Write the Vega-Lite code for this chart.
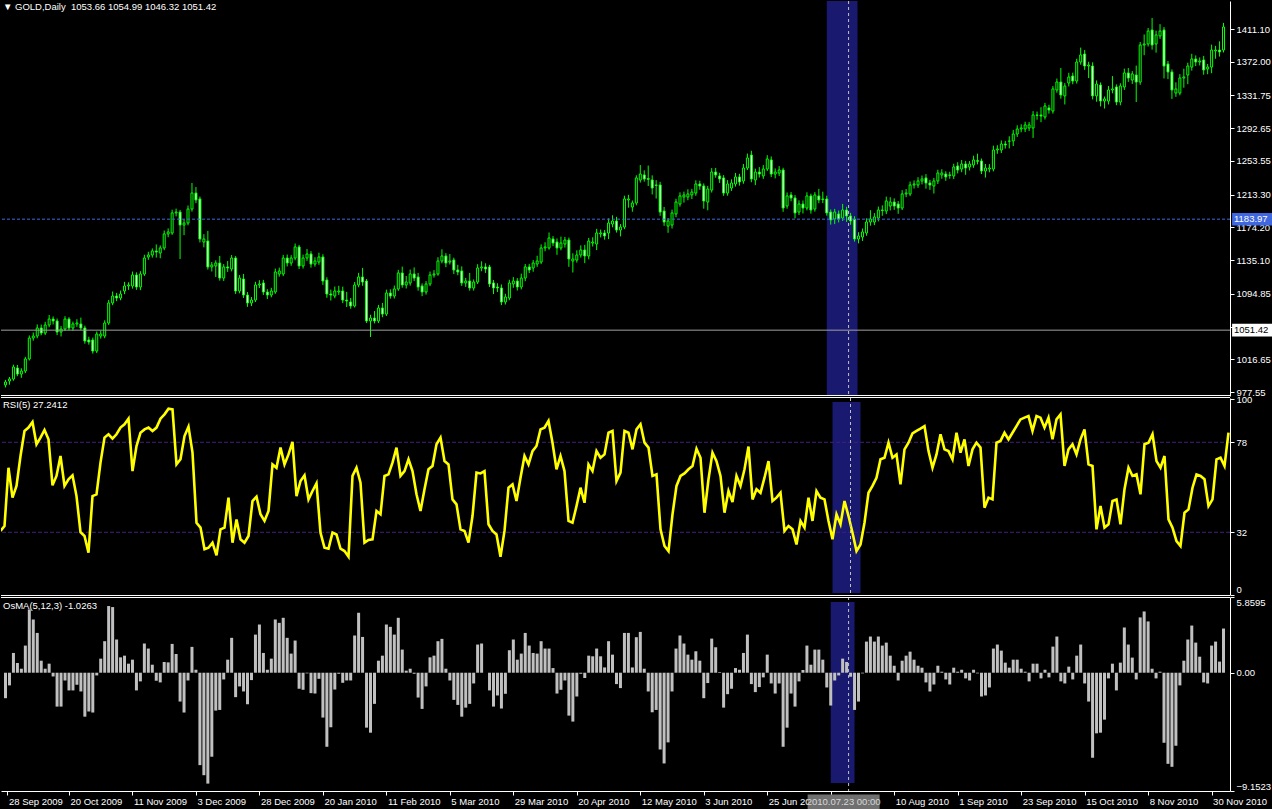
{
"$schema":"https://vega.github.io/schema/vega-lite/v6.json",
"background":"#000000",
"padding":0,
"autosize":{"type":"pad"},
"config":{"view":{"stroke":null},"font":"Liberation Sans","axis":{"labelFont":"Liberation Sans","labelFontSize":9.5,"labelColor":"#ffffff","domainColor":"#ffffff","tickColor":"#ffffff","grid":false}},
"spacing":2,
"bounds":"flush",
"datasets":{"bars":[
{"i":0,"o":986.0,"h":992.0,"l":983.0,"c":989.5,"r":32.7,"m":-1.97},
{"i":1,"o":990.7,"h":995.5,"l":986.3,"c":993.1,"r":35.2,"m":-0.98},
{"i":2,"o":993.1,"h":1010.2,"l":991.0,"c":1007.4,"r":65.0,"m":1.53},
{"i":3,"o":1006.2,"h":1009.8,"l":996.4,"c":999.0,"r":49.7,"m":0.75},
{"i":4,"o":999.0,"h":1005.9,"l":994.5,"c":1002.6,"r":55.7,"m":0.31},
{"i":5,"o":1002.6,"h":1019.6,"l":1000.1,"c":1017.0,"r":71.0,"m":2.10},
{"i":6,"o":1017.0,"h":1045.1,"l":1015.2,"c":1042.0,"r":83.8,"m":4.90},
{"i":7,"o":1042.0,"h":1048.6,"l":1038.9,"c":1044.4,"r":85.5,"m":4.12},
{"i":8,"o":1044.4,"h":1058.3,"l":1041.7,"c":1054.0,"r":88.4,"m":3.08},
{"i":9,"o":1054.0,"h":1058.1,"l":1045.3,"c":1048.0,"r":77.0,"m":0.93},
{"i":10,"o":1048.0,"h":1061.4,"l":1045.6,"c":1057.6,"r":80.4,"m":0.31},
{"i":11,"o":1057.6,"h":1069.5,"l":1054.9,"c":1064.7,"r":84.3,"m":0.70},
{"i":12,"o":1064.7,"h":1067.8,"l":1058.2,"c":1062.4,"r":79.5,"m":-0.29},
{"i":13,"o":1062.4,"h":1065.3,"l":1045.5,"c":1049.2,"r":56.0,"m":-2.62},
{"i":14,"o":1049.2,"h":1056.3,"l":1043.9,"c":1052.8,"r":60.8,"m":-2.62},
{"i":15,"o":1052.8,"h":1068.1,"l":1050.4,"c":1064.7,"r":71.0,"m":-0.60},
{"i":16,"o":1064.7,"h":1066.9,"l":1051.2,"c":1054.0,"r":55.7,"m":-1.37},
{"i":17,"o":1054.0,"h":1061.7,"l":1050.8,"c":1058.8,"r":59.1,"m":-1.37},
{"i":18,"o":1058.8,"h":1064.5,"l":1055.4,"c":1060.0,"r":61.1,"m":-0.93},
{"i":19,"o":1058.8,"h":1066.4,"l":1051.5,"c":1054.0,"r":50.5,"m":-1.45},
{"i":20,"o":1054.0,"h":1056.8,"l":1035.2,"c":1038.5,"r":32.1,"m":-3.40},
{"i":21,"o":1039.7,"h":1043.6,"l":1034.1,"c":1037.3,"r":30.1,"m":-3.00},
{"i":22,"o":1039.7,"h":1042.5,"l":1023.4,"c":1026.5,"r":21.6,"m":-3.08},
{"i":23,"o":1026.5,"h":1049.8,"l":1024.0,"c":1046.8,"r":50.5,"m":-0.21},
{"i":24,"o":1044.4,"h":1050.9,"l":1041.3,"c":1046.8,"r":51.4,"m":1.09},
{"i":25,"o":1044.4,"h":1063.2,"l":1041.8,"c":1060.0,"r":67.6,"m":2.44},
{"i":26,"o":1060.0,"h":1087.5,"l":1057.7,"c":1083.9,"r":80.4,"m":5.16},
{"i":27,"o":1083.9,"h":1097.6,"l":1081.2,"c":1092.2,"r":82.1,"m":5.08},
{"i":28,"o":1092.2,"h":1095.9,"l":1086.0,"c":1089.8,"r":79.9,"m":2.57},
{"i":29,"o":1089.8,"h":1098.7,"l":1087.1,"c":1094.6,"r":82.1,"m":1.19},
{"i":30,"o":1098.2,"h":1109.1,"l":1094.4,"c":1104.2,"r":85.5,"m":1.32},
{"i":31,"o":1104.2,"h":1108.6,"l":1099.5,"c":1105.4,"r":87.2,"m":0.70},
{"i":32,"o":1104.2,"h":1121.4,"l":1101.0,"c":1117.3,"r":90.1,"m":1.01},
{"i":33,"o":1117.3,"h":1120.5,"l":1099.6,"c":1103.0,"r":63.3,"m":-1.37},
{"i":34,"o":1103.0,"h":1121.9,"l":1099.2,"c":1118.5,"r":76.1,"m":-0.67},
{"i":35,"o":1118.5,"h":1141.5,"l":1116.2,"c":1137.6,"r":82.9,"m":2.26},
{"i":36,"o":1138.8,"h":1145.0,"l":1135.4,"c":1141.2,"r":84.6,"m":1.87},
{"i":37,"o":1141.2,"h":1149.1,"l":1138.0,"c":1146.0,"r":85.5,"m":0.62},
{"i":38,"o":1146.0,"h":1153.8,"l":1138.1,"c":1144.8,"r":83.8,"m":-0.62},
{"i":39,"o":1143.6,"h":1152.6,"l":1137.3,"c":1149.6,"r":85.5,"m":-0.75},
{"i":40,"o":1149.6,"h":1170.4,"l":1146.9,"c":1166.3,"r":90.1,"m":0.83},
{"i":41,"o":1166.3,"h":1172.9,"l":1162.4,"c":1168.7,"r":92.3,"m":0.80},
{"i":42,"o":1167.5,"h":1195.3,"l":1165.2,"c":1191.4,"r":95.2,"m":2.23},
{"i":43,"o":1191.4,"h":1196.6,"l":1187.3,"c":1192.5,"r":94.8,"m":1.45},
{"i":44,"o":1192.5,"h":1195.0,"l":1136.4,"c":1177.0,"r":66.7,"m":-2.23},
{"i":45,"o":1177.0,"h":1183.8,"l":1164.9,"c":1179.4,"r":69.3,"m":-3.08},
{"i":46,"o":1179.4,"h":1200.3,"l":1176.6,"c":1196.1,"r":81.2,"m":-0.60},
{"i":47,"o":1196.1,"h":1227.2,"l":1193.0,"c":1215.2,"r":86.0,"m":2.00},
{"i":48,"o":1215.2,"h":1222.4,"l":1203.1,"c":1206.9,"r":72.7,"m":0.23},
{"i":49,"o":1208.1,"h":1211.0,"l":1156.2,"c":1160.3,"r":36.9,"m":-7.15},
{"i":50,"o":1156.7,"h":1166.0,"l":1150.3,"c":1160.3,"r":34.4,"m":-7.93},
{"i":51,"o":1157.9,"h":1170.0,"l":1123.8,"c":1126.9,"r":23.3,"m":-8.58},
{"i":52,"o":1126.9,"h":1132.9,"l":1121.5,"c":1129.3,"r":24.1,"m":-6.50},
{"i":53,"o":1128.1,"h":1134.8,"l":1115.0,"c":1131.6,"r":26.7,"m":-2.93},
{"i":54,"o":1131.6,"h":1140.1,"l":1110.6,"c":1113.7,"r":20.2,"m":-2.88},
{"i":55,"o":1113.7,"h":1130.3,"l":1110.2,"c":1126.9,"r":33.5,"m":-0.52},
{"i":56,"o":1126.9,"h":1134.0,"l":1121.0,"c":1125.7,"r":34.4,"m":1.01},
{"i":57,"o":1124.5,"h":1141.2,"l":1121.6,"c":1137.6,"r":49.7,"m":2.70},
{"i":58,"o":1137.6,"h":1139.9,"l":1094.7,"c":1098.2,"r":26.7,"m":-1.89},
{"i":59,"o":1098.2,"h":1117.3,"l":1095.4,"c":1113.7,"r":38.6,"m":-1.06},
{"i":60,"o":1112.5,"h":1118.6,"l":1089.9,"c":1093.4,"r":28.4,"m":-1.45},
{"i":61,"o":1093.4,"h":1096.9,"l":1079.3,"c":1083.9,"r":26.7,"m":-2.44},
{"i":62,"o":1083.9,"h":1091.0,"l":1080.2,"c":1087.4,"r":30.1,"m":-0.57},
{"i":63,"o":1087.4,"h":1109.2,"l":1085.0,"c":1105.4,"r":48.0,"m":2.95},
{"i":64,"o":1105.4,"h":1111.1,"l":1101.7,"c":1106.6,"r":50.2,"m":3.73},
{"i":65,"o":1107.8,"h":1111.5,"l":1093.5,"c":1097.0,"r":41.2,"m":1.53},
{"i":66,"o":1097.0,"h":1100.4,"l":1088.7,"c":1093.4,"r":37.8,"m":0.23},
{"i":67,"o":1093.4,"h":1102.0,"l":1090.6,"c":1098.2,"r":42.9,"m":1.09},
{"i":68,"o":1097.0,"h":1125.0,"l":1094.8,"c":1120.9,"r":66.7,"m":4.12},
{"i":69,"o":1118.5,"h":1126.1,"l":1115.3,"c":1122.1,"r":65.0,"m":3.86},
{"i":70,"o":1118.5,"h":1141.3,"l":1116.0,"c":1137.6,"r":75.3,"m":4.25},
{"i":71,"o":1137.6,"h":1141.7,"l":1127.5,"c":1131.6,"r":66.7,"m":2.70},
{"i":72,"o":1131.6,"h":1141.0,"l":1128.3,"c":1137.6,"r":71.8,"m":1.48},
{"i":73,"o":1137.6,"h":1154.9,"l":1134.9,"c":1150.8,"r":78.2,"m":2.49},
{"i":74,"o":1150.8,"h":1153.2,"l":1124.4,"c":1128.1,"r":50.5,"m":-1.24},
{"i":75,"o":1128.1,"h":1141.6,"l":1125.0,"c":1137.6,"r":58.2,"m":-1.32},
{"i":76,"o":1137.6,"h":1148.3,"l":1134.1,"c":1142.4,"r":61.1,"m":-0.05},
{"i":77,"o":1142.4,"h":1145.8,"l":1126.1,"c":1130.4,"r":48.8,"m":-1.58},
{"i":78,"o":1130.4,"h":1138.5,"l":1127.3,"c":1134.0,"r":53.1,"m":-1.61},
{"i":79,"o":1132.8,"h":1143.9,"l":1129.5,"c":1138.8,"r":57.0,"m":-0.47},
{"i":80,"o":1138.8,"h":1142.1,"l":1105.5,"c":1110.1,"r":31.8,"m":-3.47},
{"i":81,"o":1111.3,"h":1114.6,"l":1090.1,"c":1094.6,"r":24.1,"m":-5.73},
{"i":82,"o":1094.6,"h":1099.9,"l":1086.8,"c":1093.4,"r":23.6,"m":-4.22},
{"i":83,"o":1092.2,"h":1103.5,"l":1089.5,"c":1098.2,"r":31.8,"m":-1.30},
{"i":84,"o":1097.0,"h":1104.4,"l":1093.5,"c":1098.2,"r":30.9,"m":-0.08},
{"i":85,"o":1098.2,"h":1103.4,"l":1083.7,"c":1087.4,"r":23.6,"m":-0.78},
{"i":86,"o":1087.4,"h":1097.2,"l":1079.1,"c":1086.2,"r":22.4,"m":-0.60},
{"i":87,"o":1085.1,"h":1089.8,"l":1077.0,"c":1080.3,"r":19.5,"m":-0.60},
{"i":88,"o":1080.3,"h":1108.9,"l":1078.5,"c":1105.4,"r":60.8,"m":2.88},
{"i":89,"o":1105.4,"h":1119.9,"l":1102.6,"c":1114.9,"r":65.0,"m":4.64},
{"i":90,"o":1114.9,"h":1125.8,"l":1104.4,"c":1108.9,"r":57.4,"m":2.77},
{"i":91,"o":1110.1,"h":1112.5,"l":1060.0,"c":1062.4,"r":26.7,"m":-4.25},
{"i":92,"o":1062.4,"h":1069.8,"l":1043.2,"c":1065.9,"r":28.1,"m":-4.64},
{"i":93,"o":1065.9,"h":1074.2,"l":1059.5,"c":1062.4,"r":28.4,"m":-2.41},
{"i":94,"o":1062.4,"h":1081.6,"l":1059.9,"c":1077.9,"r":42.9,"m":0.93},
{"i":95,"o":1077.9,"h":1084.0,"l":1066.8,"c":1070.7,"r":41.2,"m":1.32},
{"i":96,"o":1070.7,"h":1099.8,"l":1068.3,"c":1095.8,"r":60.8,"m":3.73},
{"i":97,"o":1095.8,"h":1100.2,"l":1089.0,"c":1092.2,"r":61.6,"m":3.55},
{"i":98,"o":1092.2,"h":1104.7,"l":1089.2,"c":1100.6,"r":67.6,"m":2.95},
{"i":99,"o":1100.6,"h":1123.5,"l":1098.3,"c":1119.7,"r":75.3,"m":4.25},
{"i":100,"o":1119.7,"h":1127.3,"l":1102.1,"c":1105.4,"r":60.8,"m":1.79},
{"i":101,"o":1105.4,"h":1116.1,"l":1101.2,"c":1108.9,"r":63.3,"m":0.16},
{"i":102,"o":1107.8,"h":1123.8,"l":1104.6,"c":1118.5,"r":69.3,"m":0.31},
{"i":103,"o":1118.5,"h":1126.3,"l":1110.0,"c":1113.7,"r":63.3,"m":-0.08},
{"i":104,"o":1114.9,"h":1119.8,"l":1098.6,"c":1103.0,"r":51.4,"m":-1.92},
{"i":105,"o":1104.2,"h":1107.3,"l":1092.0,"c":1097.0,"r":42.9,"m":-2.80},
{"i":106,"o":1097.0,"h":1110.0,"l":1093.9,"c":1106.6,"r":54.0,"m":-1.06},
{"i":107,"o":1106.6,"h":1121.4,"l":1104.0,"c":1117.3,"r":64.2,"m":1.19},
{"i":108,"o":1117.3,"h":1123.1,"l":1114.2,"c":1118.5,"r":65.9,"m":1.32},
{"i":109,"o":1118.5,"h":1138.5,"l":1116.4,"c":1134.0,"r":77.0,"m":2.44},
{"i":110,"o":1134.0,"h":1148.0,"l":1131.2,"c":1140.0,"r":80.4,"m":2.62},
{"i":111,"o":1140.0,"h":1143.4,"l":1126.6,"c":1131.6,"r":68.4,"m":0.31},
{"i":112,"o":1132.8,"h":1142.3,"l":1129.9,"c":1134.0,"r":66.7,"m":-0.60},
{"i":113,"o":1135.2,"h":1138.0,"l":1118.4,"c":1123.3,"r":48.8,"m":-2.10},
{"i":114,"o":1123.3,"h":1129.5,"l":1117.0,"c":1120.9,"r":46.3,"m":-2.49},
{"i":115,"o":1122.1,"h":1127.6,"l":1104.3,"c":1107.8,"r":33.5,"m":-3.40},
{"i":116,"o":1107.8,"h":1113.9,"l":1103.1,"c":1110.1,"r":32.7,"m":-2.70},
{"i":117,"o":1110.1,"h":1119.8,"l":1098.6,"c":1101.8,"r":26.7,"m":-2.41},
{"i":118,"o":1101.8,"h":1112.0,"l":1098.7,"c":1108.9,"r":40.3,"m":-0.83},
{"i":119,"o":1108.9,"h":1130.2,"l":1106.5,"c":1125.7,"r":62.5,"m":2.18},
{"i":120,"o":1125.7,"h":1133.6,"l":1121.8,"c":1126.9,"r":62.1,"m":2.26},
{"i":121,"o":1126.9,"h":1131.3,"l":1119.8,"c":1124.5,"r":63.3,"m":0.00},
{"i":122,"o":1126.9,"h":1129.4,"l":1103.0,"c":1106.6,"r":36.1,"m":-1.37},
{"i":123,"o":1107.8,"h":1111.3,"l":1094.5,"c":1101.8,"r":32.7,"m":-2.62},
{"i":124,"o":1103.0,"h":1107.5,"l":1096.9,"c":1101.8,"r":30.9,"m":-1.76},
{"i":125,"o":1101.8,"h":1106.0,"l":1081.3,"c":1085.1,"r":19.5,"m":-2.77},
{"i":126,"o":1085.1,"h":1094.9,"l":1082.0,"c":1091.0,"r":32.7,"m":-1.63},
{"i":127,"o":1089.8,"h":1111.6,"l":1087.2,"c":1107.8,"r":54.8,"m":1.74},
{"i":128,"o":1106.6,"h":1114.8,"l":1102.0,"c":1110.1,"r":56.5,"m":2.57},
{"i":129,"o":1110.1,"h":1113.6,"l":1098.8,"c":1103.0,"r":48.0,"m":1.01},
{"i":130,"o":1103.0,"h":1118.9,"l":1100.1,"c":1113.7,"r":59.9,"m":1.48},
{"i":131,"o":1113.7,"h":1130.4,"l":1109.9,"c":1126.9,"r":71.0,"m":3.08},
{"i":132,"o":1126.9,"h":1130.6,"l":1119.6,"c":1123.3,"r":66.7,"m":2.10},
{"i":133,"o":1125.7,"h":1135.1,"l":1121.2,"c":1131.6,"r":73.5,"m":1.53},
{"i":134,"o":1130.4,"h":1140.3,"l":1127.0,"c":1134.0,"r":76.1,"m":1.48},
{"i":135,"o":1132.8,"h":1153.9,"l":1130.3,"c":1149.6,"r":84.6,"m":2.44},
{"i":136,"o":1149.6,"h":1156.4,"l":1145.7,"c":1150.8,"r":85.5,"m":1.87},
{"i":137,"o":1149.6,"h":1168.1,"l":1147.5,"c":1161.5,"r":88.9,"m":1.87},
{"i":138,"o":1160.3,"h":1163.7,"l":1151.8,"c":1155.5,"r":77.8,"m":0.36},
{"i":139,"o":1156.7,"h":1161.0,"l":1141.4,"c":1149.6,"r":64.2,"m":-1.61},
{"i":140,"o":1149.6,"h":1163.1,"l":1146.8,"c":1155.5,"r":71.0,"m":-1.32},
{"i":141,"o":1154.3,"h":1162.8,"l":1150.1,"c":1159.1,"r":63.3,"m":-0.60},
{"i":142,"o":1159.1,"h":1162.0,"l":1127.1,"c":1136.4,"r":37.8,"m":-3.32},
{"i":143,"o":1134.0,"h":1143.2,"l":1120.3,"c":1136.4,"r":36.9,"m":-3.78},
{"i":144,"o":1135.2,"h":1146.8,"l":1132.1,"c":1141.2,"r":45.4,"m":-1.84},
{"i":145,"o":1141.2,"h":1152.7,"l":1138.1,"c":1147.2,"r":54.8,"m":-0.08},
{"i":146,"o":1147.2,"h":1153.3,"l":1131.5,"c":1140.0,"r":47.1,"m":-0.41},
{"i":147,"o":1140.0,"h":1161.6,"l":1136.0,"c":1157.9,"r":66.7,"m":1.32},
{"i":148,"o":1155.5,"h":1162.3,"l":1151.3,"c":1156.7,"r":63.3,"m":1.27},
{"i":149,"o":1154.3,"h":1172.4,"l":1147.0,"c":1167.5,"r":73.5,"m":1.87},
{"i":150,"o":1166.3,"h":1171.6,"l":1162.2,"c":1167.5,"r":70.1,"m":1.27},
{"i":151,"o":1167.5,"h":1171.0,"l":1159.5,"c":1163.9,"r":71.8,"m":0.41},
{"i":152,"o":1167.5,"h":1184.9,"l":1160.1,"c":1179.4,"r":82.9,"m":2.44},
{"i":153,"o":1178.2,"h":1188.6,"l":1174.3,"c":1181.8,"r":83.8,"m":1.40},
{"i":154,"o":1181.8,"h":1186.8,"l":1168.0,"c":1171.0,"r":58.2,"m":-0.88},
{"i":155,"o":1171.0,"h":1178.1,"l":1163.4,"c":1174.6,"r":62.5,"m":-1.19},
{"i":156,"o":1174.6,"h":1212.0,"l":1172.0,"c":1208.1,"r":83.8,"m":3.08},
{"i":157,"o":1206.9,"h":1213.1,"l":1197.7,"c":1208.1,"r":82.9,"m":3.08},
{"i":158,"o":1198.5,"h":1206.3,"l":1192.9,"c":1203.3,"r":74.4,"m":0.41},
{"i":159,"o":1203.3,"h":1236.4,"l":1200.5,"c":1233.2,"r":84.6,"m":2.75},
{"i":160,"o":1230.8,"h":1248.6,"l":1227.7,"c":1237.9,"r":87.2,"m":3.16},
{"i":161,"o":1236.8,"h":1242.3,"l":1228.8,"c":1232.0,"r":77.8,"m":0.31},
{"i":162,"o":1232.6,"h":1248.0,"l":1223.6,"c":1231.6,"r":75.3,"m":-1.45},
{"i":163,"o":1230.8,"h":1236.3,"l":1213.5,"c":1221.2,"r":60.8,"m":-3.06},
{"i":164,"o":1224.8,"h":1230.6,"l":1208.6,"c":1224.2,"r":61.6,"m":-2.88},
{"i":165,"o":1224.8,"h":1228.6,"l":1188.0,"c":1192.5,"r":33.5,"m":-5.94},
{"i":166,"o":1193.7,"h":1198.6,"l":1176.0,"c":1180.6,"r":25.0,"m":-7.02},
{"i":167,"o":1175.8,"h":1185.3,"l":1167.7,"c":1181.8,"r":22.4,"m":-5.39},
{"i":168,"o":1177.0,"h":1195.4,"l":1172.8,"c":1191.4,"r":41.2,"m":-1.45},
{"i":169,"o":1190.2,"h":1208.4,"l":1186.3,"c":1204.5,"r":55.7,"m":1.87},
{"i":170,"o":1202.1,"h":1216.0,"l":1199.0,"c":1211.7,"r":60.8,"m":2.88},
{"i":171,"o":1210.5,"h":1216.9,"l":1203.8,"c":1212.9,"r":62.1,"m":2.26},
{"i":172,"o":1210.5,"h":1219.7,"l":1206.6,"c":1214.1,"r":64.2,"m":1.40},
{"i":173,"o":1212.9,"h":1220.2,"l":1208.1,"c":1216.4,"r":65.9,"m":1.01},
{"i":174,"o":1215.2,"h":1230.4,"l":1211.9,"c":1226.0,"r":74.7,"m":1.66},
{"i":175,"o":1226.0,"h":1229.9,"l":1219.1,"c":1223.6,"r":70.1,"m":0.93},
{"i":176,"o":1223.6,"h":1226.7,"l":1196.5,"c":1205.7,"r":42.0,"m":-1.97},
{"i":177,"o":1204.5,"h":1223.8,"l":1194.6,"c":1220.0,"r":59.1,"m":-0.80},
{"i":178,"o":1218.8,"h":1245.0,"l":1215.8,"c":1240.3,"r":72.7,"m":2.64},
{"i":179,"o":1240.3,"h":1245.2,"l":1233.5,"c":1236.8,"r":68.4,"m":1.97},
{"i":180,"o":1235.6,"h":1239.4,"l":1227.3,"c":1232.0,"r":60.8,"m":0.05},
{"i":181,"o":1233.2,"h":1236.6,"l":1211.9,"c":1215.2,"r":42.0,"m":-2.70},
{"i":182,"o":1215.2,"h":1230.7,"l":1212.0,"c":1226.0,"r":53.1,"m":-1.66},
{"i":183,"o":1221.2,"h":1231.6,"l":1217.7,"c":1227.2,"r":47.5,"m":-1.24},
{"i":184,"o":1226.0,"h":1239.2,"l":1222.9,"c":1234.4,"r":60.8,"m":0.36},
{"i":185,"o":1234.4,"h":1238.2,"l":1224.0,"c":1228.4,"r":55.7,"m":0.23},
{"i":186,"o":1229.6,"h":1249.9,"l":1226.3,"c":1245.1,"r":64.2,"m":1.53},
{"i":187,"o":1245.1,"h":1262.4,"l":1242.6,"c":1257.1,"r":75.8,"m":2.95},
{"i":188,"o":1260.6,"h":1265.7,"l":1228.1,"c":1232.0,"r":48.8,"m":-0.88},
{"i":189,"o":1230.8,"h":1244.3,"l":1224.6,"c":1240.3,"r":54.0,"m":-1.50},
{"i":190,"o":1240.3,"h":1246.2,"l":1233.7,"c":1237.9,"r":52.2,"m":-1.11},
{"i":191,"o":1235.6,"h":1248.6,"l":1232.1,"c":1243.9,"r":59.9,"m":-0.36},
{"i":192,"o":1243.9,"h":1260.4,"l":1241.5,"c":1255.9,"r":68.4,"m":1.40},
{"i":193,"o":1254.7,"h":1258.9,"l":1234.3,"c":1237.9,"r":48.0,"m":-0.83},
{"i":194,"o":1237.9,"h":1244.6,"l":1232.7,"c":1240.3,"r":49.7,"m":-1.61},
{"i":195,"o":1239.1,"h":1247.3,"l":1235.6,"c":1242.7,"r":52.2,"m":-0.83},
{"i":196,"o":1242.7,"h":1245.4,"l":1192.8,"c":1197.3,"r":32.7,"m":-5.73},
{"i":197,"o":1199.7,"h":1215.9,"l":1196.5,"c":1211.7,"r":35.2,"m":-4.25},
{"i":198,"o":1212.9,"h":1216.4,"l":1205.4,"c":1209.3,"r":33.5,"m":-1.61},
{"i":199,"o":1209.3,"h":1212.7,"l":1185.0,"c":1191.4,"r":25.8,"m":-2.62},
{"i":200,"o":1192.5,"h":1206.5,"l":1189.0,"c":1202.1,"r":37.8,"m":-0.67},
{"i":201,"o":1202.1,"h":1206.3,"l":1190.8,"c":1197.3,"r":34.4,"m":0.21},
{"i":202,"o":1197.3,"h":1216.1,"l":1194.5,"c":1211.7,"r":49.7,"m":2.10},
{"i":203,"o":1211.7,"h":1214.4,"l":1190.6,"c":1194.9,"r":37.8,"m":0.62},
{"i":204,"o":1196.1,"h":1216.3,"l":1193.0,"c":1212.9,"r":53.1,"m":1.79},
{"i":205,"o":1211.7,"h":1220.1,"l":1203.0,"c":1206.9,"r":49.7,"m":1.79},
{"i":206,"o":1208.1,"h":1216.8,"l":1203.2,"c":1207.5,"r":48.8,"m":1.01},
{"i":207,"o":1208.1,"h":1212.0,"l":1188.2,"c":1191.4,"r":37.8,"m":-1.14},
{"i":208,"o":1192.5,"h":1195.6,"l":1177.5,"c":1183.0,"r":28.4,"m":-2.54},
{"i":209,"o":1184.2,"h":1196.3,"l":1178.1,"c":1192.5,"r":41.2,"m":-0.60},
{"i":210,"o":1190.2,"h":1194.3,"l":1180.1,"c":1184.2,"r":36.1,"m":-0.21},
{"i":211,"o":1185.4,"h":1202.2,"l":1181.9,"c":1194.9,"r":48.0,"m":1.09},
{"i":212,"o":1194.9,"h":1198.8,"l":1180.7,"c":1187.8,"r":40.3,"m":0.83},
{"i":213,"o":1187.8,"h":1191.5,"l":1177.3,"c":1181.8,"r":31.8,"m":-0.31},
{"i":214,"o":1184.2,"h":1187.5,"l":1157.2,"c":1160.3,"r":22.4,"m":-2.88},
{"i":215,"o":1160.3,"h":1168.4,"l":1155.1,"c":1163.9,"r":25.8,"m":-2.23},
{"i":216,"o":1162.7,"h":1172.8,"l":1158.0,"c":1168.7,"r":36.9,"m":-0.05},
{"i":217,"o":1167.5,"h":1185.0,"l":1164.1,"c":1180.6,"r":52.2,"m":2.41},
{"i":218,"o":1180.6,"h":1194.7,"l":1176.2,"c":1184.2,"r":55.7,"m":2.80},
{"i":219,"o":1180.6,"h":1191.2,"l":1176.8,"c":1186.6,"r":59.9,"m":2.41},
{"i":220,"o":1185.4,"h":1199.0,"l":1181.3,"c":1194.9,"r":69.3,"m":2.80},
{"i":221,"o":1194.9,"h":1200.5,"l":1188.0,"c":1194.3,"r":70.1,"m":2.10},
{"i":222,"o":1193.7,"h":1210.9,"l":1190.0,"c":1205.7,"r":77.8,"m":2.33},
{"i":223,"o":1199.7,"h":1210.2,"l":1194.4,"c":1204.5,"r":70.1,"m":1.32},
{"i":224,"o":1204.5,"h":1208.8,"l":1195.1,"c":1199.7,"r":71.8,"m":0.54},
{"i":225,"o":1202.1,"h":1205.6,"l":1190.4,"c":1197.3,"r":56.5,"m":-0.60},
{"i":226,"o":1197.3,"h":1218.6,"l":1194.8,"c":1214.1,"r":74.4,"m":0.93},
{"i":227,"o":1214.1,"h":1220.0,"l":1210.2,"c":1215.2,"r":77.8,"m":1.32},
{"i":228,"o":1214.1,"h":1228.9,"l":1211.5,"c":1224.8,"r":82.6,"m":1.63},
{"i":229,"o":1224.8,"h":1230.3,"l":1220.6,"c":1226.0,"r":83.8,"m":1.01},
{"i":230,"o":1224.8,"h":1234.1,"l":1221.4,"c":1229.6,"r":85.0,"m":0.54},
{"i":231,"o":1229.6,"h":1236.1,"l":1225.5,"c":1232.0,"r":86.3,"m":0.39},
{"i":232,"o":1233.2,"h":1237.8,"l":1220.4,"c":1227.2,"r":73.5,"m":-0.75},
{"i":233,"o":1227.2,"h":1231.0,"l":1219.0,"c":1224.8,"r":65.0,"m":-1.45},
{"i":234,"o":1223.6,"h":1233.3,"l":1214.6,"c":1229.6,"r":71.8,"m":-0.91},
{"i":235,"o":1229.6,"h":1243.0,"l":1226.0,"c":1239.1,"r":82.1,"m":0.54},
{"i":236,"o":1236.8,"h":1243.6,"l":1232.3,"c":1239.1,"r":74.4,"m":0.08},
{"i":237,"o":1237.9,"h":1241.2,"l":1229.8,"c":1234.4,"r":73.5,"m":-0.52},
{"i":238,"o":1236.8,"h":1240.6,"l":1232.3,"c":1236.2,"r":69.3,"m":-0.91},
{"i":239,"o":1235.6,"h":1250.2,"l":1232.0,"c":1246.3,"r":82.9,"m":0.39},
{"i":240,"o":1247.5,"h":1252.0,"l":1238.6,"c":1242.7,"r":72.7,"m":0.08},
{"i":241,"o":1243.9,"h":1254.7,"l":1240.1,"c":1249.9,"r":79.5,"m":0.23},
{"i":242,"o":1249.9,"h":1253.6,"l":1237.0,"c":1245.1,"r":65.9,"m":-0.44},
{"i":243,"o":1246.3,"h":1253.4,"l":1242.2,"c":1249.9,"r":74.4,"m":-0.60},
{"i":244,"o":1248.7,"h":1259.8,"l":1245.3,"c":1254.7,"r":77.8,"m":0.23},
{"i":245,"o":1253.9,"h":1262.2,"l":1249.5,"c":1253.1,"r":75.3,"m":-0.05},
{"i":246,"o":1253.5,"h":1256.4,"l":1237.9,"c":1241.5,"r":44.6,"m":-1.84},
{"i":247,"o":1241.5,"h":1249.9,"l":1233.7,"c":1245.1,"r":49.7,"m":-1.76},
{"i":248,"o":1243.9,"h":1249.7,"l":1240.0,"c":1245.1,"r":48.8,"m":-1.14},
{"i":249,"o":1243.9,"h":1271.8,"l":1241.1,"c":1266.6,"r":77.8,"m":1.87},
{"i":250,"o":1266.6,"h":1272.3,"l":1262.1,"c":1267.8,"r":78.7,"m":2.18},
{"i":251,"o":1266.6,"h":1278.0,"l":1263.0,"c":1273.8,"r":82.9,"m":1.71},
{"i":252,"o":1273.8,"h":1277.5,"l":1268.3,"c":1272.6,"r":79.5,"m":0.78},
{"i":253,"o":1277.0,"h":1283.0,"l":1268.5,"c":1277.4,"r":82.9,"m":0.39},
{"i":254,"o":1277.4,"h":1290.6,"l":1271.3,"c":1285.7,"r":86.3,"m":1.01},
{"i":255,"o":1285.7,"h":1296.1,"l":1282.2,"c":1291.7,"r":89.7,"m":1.01},
{"i":256,"o":1291.7,"h":1297.3,"l":1287.8,"c":1292.9,"r":90.6,"m":0.31},
{"i":257,"o":1291.7,"h":1300.4,"l":1288.0,"c":1296.5,"r":91.4,"m":0.08},
{"i":258,"o":1292.9,"h":1300.0,"l":1289.3,"c":1296.5,"r":83.8,"m":-0.67},
{"i":259,"o":1292.9,"h":1313.0,"l":1281.0,"c":1308.4,"r":91.4,"m":0.70},
{"i":260,"o":1308.4,"h":1312.5,"l":1302.8,"c":1308.0,"r":90.6,"m":0.70},
{"i":261,"o":1308.4,"h":1317.7,"l":1299.8,"c":1307.2,"r":85.5,"m":-0.44},
{"i":262,"o":1306.0,"h":1322.9,"l":1303.0,"c":1319.2,"r":90.6,"m":0.23},
{"i":263,"o":1316.8,"h":1320.6,"l":1310.0,"c":1314.4,"r":79.5,"m":-0.36},
{"i":264,"o":1313.2,"h":1343.0,"l":1310.1,"c":1339.5,"r":89.7,"m":2.02},
{"i":265,"o":1338.3,"h":1352.0,"l":1335.0,"c":1347.8,"r":92.3,"m":2.80},
{"i":266,"o":1347.8,"h":1364.5,"l":1327.9,"c":1332.3,"r":65.9,"m":-0.67},
{"i":267,"o":1331.2,"h":1346.5,"l":1321.0,"c":1343.0,"r":74.4,"m":-0.83},
{"i":268,"o":1346.6,"h":1358.8,"l":1342.5,"c":1353.8,"r":77.0,"m":0.47},
{"i":269,"o":1355.0,"h":1359.0,"l":1345.1,"c":1349.0,"r":71.8,"m":-0.52},
{"i":270,"o":1349.0,"h":1375.6,"l":1346.0,"c":1371.7,"r":79.5,"m":1.32},
{"i":271,"o":1371.7,"h":1388.9,"l":1368.5,"c":1380.1,"r":84.6,"m":2.18},
{"i":272,"o":1381.3,"h":1386.0,"l":1362.3,"c":1366.9,"r":66.7,"m":-0.83},
{"i":273,"o":1366.9,"h":1372.0,"l":1352.5,"c":1368.1,"r":65.9,"m":-2.23},
{"i":274,"o":1366.9,"h":1371.3,"l":1327.0,"c":1331.2,"r":33.5,"m":-6.58},
{"i":275,"o":1331.2,"h":1349.7,"l":1324.3,"c":1345.4,"r":45.4,"m":-4.69},
{"i":276,"o":1344.2,"h":1347.3,"l":1318.7,"c":1325.1,"r":34.4,"m":-4.64},
{"i":277,"o":1325.1,"h":1330.5,"l":1316.1,"c":1327.6,"r":36.1,"m":-3.63},
{"i":278,"o":1325.1,"h":1343.1,"l":1321.0,"c":1338.3,"r":48.0,"m":-0.44},
{"i":279,"o":1338.3,"h":1354.9,"l":1334.3,"c":1339.5,"r":48.8,"m":0.70},
{"i":280,"o":1341.9,"h":1345.0,"l":1320.1,"c":1323.9,"r":36.1,"m":-1.37},
{"i":281,"o":1323.9,"h":1346.3,"l":1320.0,"c":1343.0,"r":54.0,"m":0.78},
{"i":282,"o":1341.9,"h":1363.8,"l":1338.4,"c":1358.6,"r":65.0,"m":3.50},
{"i":283,"o":1358.6,"h":1364.5,"l":1348.0,"c":1352.6,"r":60.8,"m":2.18},
{"i":284,"o":1350.2,"h":1360.8,"l":1345.5,"c":1357.4,"r":61.6,"m":1.17},
{"i":285,"o":1356.2,"h":1367.4,"l":1323.9,"c":1347.8,"r":51.4,"m":-0.52},
{"i":286,"o":1347.8,"h":1395.6,"l":1344.5,"c":1392.0,"r":77.0,"m":4.28},
{"i":287,"o":1392.0,"h":1404.6,"l":1379.8,"c":1393.2,"r":77.8,"m":4.74},
{"i":288,"o":1393.2,"h":1412.3,"l":1390.2,"c":1408.7,"r":82.1,"m":3.97},
{"i":289,"o":1409.9,"h":1424.3,"l":1386.5,"c":1392.0,"r":68.4,"m":0.31},
{"i":290,"o":1393.2,"h":1409.2,"l":1382.9,"c":1404.0,"r":65.0,"m":-0.44},
{"i":291,"o":1402.8,"h":1416.9,"l":1399.3,"c":1408.7,"r":71.0,"m":0.08},
{"i":292,"o":1409.9,"h":1413.4,"l":1352.1,"c":1366.9,"r":38.6,"m":-5.42},
{"i":293,"o":1369.3,"h":1373.0,"l":1351.2,"c":1359.8,"r":34.4,"m":-7.05},
{"i":294,"o":1359.8,"h":1362.9,"l":1327.6,"c":1338.3,"r":27.5,"m":-7.28},
{"i":295,"o":1334.7,"h":1347.4,"l":1330.1,"c":1339.5,"r":25.0,"m":-5.65},
{"i":296,"o":1334.7,"h":1357.2,"l":1331.9,"c":1352.6,"r":42.0,"m":-0.98},
{"i":297,"o":1352.6,"h":1363.7,"l":1341.0,"c":1353.8,"r":43.7,"m":0.93},
{"i":298,"o":1356.2,"h":1370.9,"l":1345.2,"c":1366.9,"r":54.8,"m":2.57},
{"i":299,"o":1365.7,"h":1381.5,"l":1361.4,"c":1375.3,"r":61.6,"m":3.65},
{"i":300,"o":1375.3,"h":1379.6,"l":1366.8,"c":1371.7,"r":60.8,"m":2.33},
{"i":301,"o":1371.7,"h":1377.2,"l":1367.6,"c":1372.9,"r":59.1,"m":1.24},
{"i":302,"o":1374.1,"h":1379.0,"l":1356.5,"c":1362.2,"r":45.4,"m":-0.75},
{"i":303,"o":1363.4,"h":1369.4,"l":1357.1,"c":1365.7,"r":48.8,"m":-0.83},
{"i":304,"o":1365.7,"h":1392.5,"l":1358.3,"c":1386.0,"r":69.3,"m":2.10},
{"i":305,"o":1384.9,"h":1391.0,"l":1375.6,"c":1386.0,"r":70.1,"m":2.41},
{"i":306,"o":1386.0,"h":1396.4,"l":1378.2,"c":1383.7,"r":65.9,"m":0.86},
{"i":307,"o":1386.0,"h":1418.4,"l":1383.1,"c":1413.5,"r":82.9,"m":3.42}
]},
"vconcat":[
{
"width":1229,"height":395,
"title":{"text":"▼ GOLD,Daily\u00a0 1053.66 1054.99 1046.32 1051.42","anchor":"start","frame":"group","orient":"top","baseline":"top","offset":-10.5,"dx":2,"fontSize":9.5,"font":"Liberation Sans","fontWeight":"normal","color":"#ffffff"},
"resolve":{"axis":{"x":"independent","y":"independent"}},
"layer":[
{"data":{"values":[{"x1":207,"x2":214.75}]},"mark":{"type":"rect","color":"#191970"},
 "encoding":{"x":{"field":"x1","type":"quantitative","scale":{"domain":[0.125,307.375],"nice":false,"zero":false},"axis":null},"x2":{"field":"x2"},"y":{"value":0},"y2":{"value":"height"}}},
{"data":{"name":"bars"},"mark":{"type":"rule","color":"#00ff00","strokeWidth":1,"clip":true},
 "encoding":{"x":{"field":"i","type":"quantitative","scale":{"domain":[0.125,307.375],"nice":false,"zero":false},"axis":null},
 "y":{"field":"l","type":"quantitative","scale":{"domain":[972.78,1444.57],"nice":false,"zero":false},"axis":{"orient":"right","title":null,"values":[977.55,1016.65,1055.75,1094.85,1135.10,1174.20,1213.30,1253.55,1292.65,1331.75,1372.00,1411.10],"format":".2f","tickSize":4,"labelPadding":2}},
 "y2":{"field":"h"}}},
{"data":{"name":"bars"},"mark":{"type":"bar","size":2,"stroke":"#00ff00","strokeWidth":1,"clip":true},
 "encoding":{"x":{"field":"i","type":"quantitative","scale":{"domain":[0.125,307.375],"nice":false,"zero":false},"axis":null},
 "y":{"field":"o","type":"quantitative","scale":{"domain":[972.78,1444.57],"nice":false,"zero":false},"axis":null},"y2":{"field":"c"},
 "fill":{"condition":{"test":"datum.c < datum.o","value":"#ffffff"},"value":"#000000"}}},
{"data":{"values":[{"p":1183.97}]},"mark":{"type":"rule","color":"#4169e1","strokeDash":[3,2]},"encoding":{"y":{"field":"p","type":"quantitative","axis":null}}},
{"data":{"values":[{"p":1051.42}]},"mark":{"type":"rule","color":"#a0a0a0"},"encoding":{"y":{"field":"p","type":"quantitative","axis":null}}},
{"data":{"values":[{"p":973.38}]},"mark":{"type":"rule","color":"#ffffff"},"encoding":{"y":{"field":"p","type":"quantitative","axis":null}}},
{"data":{"values":[{"x":212.5}]},"mark":{"type":"rule","color":"#c0c0c0","strokeDash":[3,3]},"encoding":{"x":{"field":"x","type":"quantitative","axis":null}}},
{"data":{"values":[{"p":1183.97,"t":"1183.97"}]},"mark":{"type":"point","shape":"M0.1,-0.3H2V0.3H0.1Z","size":1764,"filled":true,"opacity":1,"color":"#3f67e0","strokeWidth":0},"encoding":{"x":{"value":"width"},"y":{"field":"p","type":"quantitative","axis":null}}},
{"data":{"values":[{"p":1183.97,"t":"1183.97"}]},"mark":{"type":"text","align":"left","baseline":"middle","dx":4,"fontSize":9.5,"font":"Liberation Sans","color":"#ffffff"},"encoding":{"x":{"value":"width"},"y":{"field":"p","type":"quantitative","axis":null},"text":{"field":"t"}}},
{"data":{"values":[{"p":1051.42,"t":"1051.42"}]},"mark":{"type":"point","shape":"M0.1,-0.3H2V0.3H0.1Z","size":1764,"filled":true,"opacity":1,"color":"#ffffff","strokeWidth":0},"encoding":{"x":{"value":"width"},"y":{"field":"p","type":"quantitative","axis":null}}},
{"data":{"values":[{"p":1051.42,"t":"1051.42"}]},"mark":{"type":"text","align":"left","baseline":"middle","dx":4,"fontSize":9.5,"font":"Liberation Sans","color":"#000000"},"encoding":{"x":{"value":"width"},"y":{"field":"p","type":"quantitative","axis":null},"text":{"field":"t"}}}
]
},
{
"width":1229,"height":197,
"title":{"text":"RSI(5) 27.2412","anchor":"start","frame":"group","orient":"top","baseline":"top","offset":-15.5,"dx":2,"fontSize":9.5,"font":"Liberation Sans","fontWeight":"normal","color":"#ffffff"},
"resolve":{"axis":{"x":"independent","y":"independent"}},
"layer":[
{"data":{"values":[{"x1":208,"x2":215,"y1":98.6,"y2":1.0}]},"mark":{"type":"rect","color":"#191970"},
 "encoding":{"x":{"field":"x1","type":"quantitative","scale":{"domain":[0.125,307.375],"nice":false,"zero":false},"axis":null},"x2":{"field":"x2"},
 "y":{"field":"y1","type":"quantitative","scale":{"domain":[-0.05,100.64],"nice":false,"zero":false},"axis":{"orient":"right","title":null,"values":[0,32,78,100],"labelFlush":true,"tickSize":4,"labelPadding":2}},"y2":{"field":"y2"}}},
{"data":{"values":[{"v":78},{"v":32}]},"mark":{"type":"rule","color":"#42207e","strokeDash":[4,2]},"encoding":{"y":{"field":"v","type":"quantitative","axis":null}}},
{"data":{"name":"bars"},"mark":{"type":"line","color":"#ffff00","strokeWidth":2.6,"clip":true,"interpolate":"linear"},
 "encoding":{"x":{"field":"i","type":"quantitative","scale":{"domain":[0.125,307.375],"nice":false,"zero":false},"axis":null},
 "y":{"field":"r","type":"quantitative","scale":{"domain":[-0.05,100.64],"nice":false,"zero":false},"axis":null}}},
{"data":{"values":[{"x":212.5}]},"mark":{"type":"rule","color":"#c0c0c0","strokeDash":[3,3]},"encoding":{"x":{"field":"x","type":"quantitative","axis":null}}},
{"data":{"values":[{"v":100.90},{"v":-0.30}]},"mark":{"type":"rule","color":"#ffffff"},"encoding":{"y":{"field":"v","type":"quantitative","axis":null}}}
]
},
{
"width":1229,"height":194,
"title":{"text":"OsMA(5,12,3) -1.0263","anchor":"start","frame":"group","orient":"top","baseline":"top","offset":-13.5,"dx":2,"fontSize":9.5,"font":"Liberation Sans","fontWeight":"normal","color":"#ffffff"},
"resolve":{"axis":{"x":"independent","y":"independent"}},
"layer":[
{"data":{"values":[{"x1":208,"x2":214,"y1":5.47,"y2":-8.53}]},"mark":{"type":"rect","color":"#191970"},
 "encoding":{"x":{"field":"x1","type":"quantitative","scale":{"domain":[0.125,307.375],"nice":false,"zero":false},"axis":null},"x2":{"field":"x2"},
 "y":{"field":"y1","type":"quantitative","scale":{"domain":[-9.1523,5.8595],"nice":false,"zero":false},"axis":{"orient":"right","title":null,"values":[-9.1523,0,5.8595],"labelExpr":"datum.value == 0 ? '0.00' : format(datum.value, '.4f')","labelFlush":true,"tickSize":4,"labelPadding":2}},"y2":{"field":"y2"}}},
{"data":{"name":"bars"},"mark":{"type":"bar","size":3,"color":"#c0c0c0","clip":true},
 "encoding":{"x":{"field":"i","type":"quantitative","scale":{"domain":[0.125,307.375],"nice":false,"zero":false},
 "axis":{"orient":"bottom","title":null,"values":[0.5,16,32,48,64,80,96,112,128,144,160,176,192,208,224,240,256,272,288,304],"labelExpr":"['28 Sep 2009','20 Oct 2009','11 Nov 2009','3 Dec 2009','28 Dec 2009','20 Jan 2010','11 Feb 2010','5 Mar 2010','29 Mar 2010','20 Apr 2010','12 May 2010','3 Jun 2010','25 Jun 2010','','10 Aug 2010','1 Sep 2010','23 Sep 2010','15 Oct 2010','8 Nov 2010','30 Nov 2010'][round(datum.value/16)]","labelAlign":"left","labelOffset":1,"labelPadding":1,"tickSize":4,"labelBound":false,"labelOverlap":false}},
 "y":{"field":"m","type":"quantitative","scale":{"domain":[-9.1523,5.8595],"nice":false,"zero":false},"axis":null},"y2":{"datum":0}}},
{"data":{"values":[{"x":212.5}]},"mark":{"type":"rule","color":"#c0c0c0","strokeDash":[3,3]},"encoding":{"x":{"field":"x","type":"quantitative","axis":null}}},
{"data":{"values":[{"v":5.8208}]},"mark":{"type":"rule","color":"#ffffff"},"encoding":{"y":{"field":"v","type":"quantitative","axis":null}}},
{"data":{"values":[{"x":211.25,"t":"2010.07.23 00:00"}]},"mark":{"type":"point","shape":"M-1,0.1H1V0.5H-1Z","size":5184,"filled":true,"opacity":1,"color":"#707070","strokeWidth":0},"encoding":{"x":{"field":"x","type":"quantitative","axis":null},"y":{"value":"height"}}},
{"data":{"values":[{"x":211.25,"t":"2010.07.23 00:00"}]},"mark":{"type":"text","align":"center","baseline":"middle","dy":11,"fontSize":9.5,"font":"Liberation Sans","color":"#d8d8d8"},"encoding":{"x":{"field":"x","type":"quantitative","axis":null},"y":{"value":"height"},"text":{"field":"t"}}}
]
}
]
}
